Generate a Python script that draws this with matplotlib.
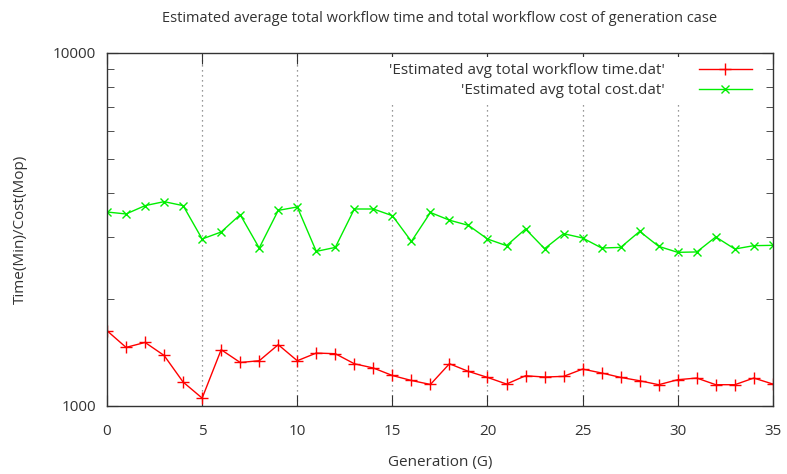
import matplotlib.pyplot as plt
import numpy as np

# data
generation = list(range(36))
avg_time = [1631, 1463, 1511, 1388, 1167, 1051, 1441, 1326, 1341, 1489,
            1341, 1410, 1404, 1315, 1279, 1218, 1179, 1149, 1315, 1251,
            1203, 1152, 1216, 1206, 1211, 1270, 1238, 1203, 1177, 1147,
            1185, 1198, 1147, 1147, 1198, 1152]
avg_cost = [3537, 3492, 3687, 3784, 3687, 2966, 3105, 3476, 2797, 3575,
            3655, 2736, 2808, 3607, 3607, 3453, 2920, 3526, 3353, 3242,
            2966, 2840, 3166, 2785, 3071, 2986, 2797, 2808, 3117, 2827,
            2719, 2726, 3006, 2779, 2840, 2846]

plt.rcParams['font.family'] = ['Open Sans', 'DejaVu Sans']
txt = '#333333'

fig = plt.figure(figsize=(7.87, 4.74), dpi=100)
ax = fig.add_axes([0.136, 0.144, 0.846, 0.745])

ax.plot(generation, avg_time, color='#ff0000', marker='+', ms=8, mew=1.0, lw=1.0,
        label="'Estimated avg total workflow time.dat'")
ax.plot(generation, avg_cost, color='#00ee00', marker='x', ms=6, mew=1.0, lw=1.0,
        label="'Estimated avg total cost.dat'")

ax.set_yscale('log')
ax.set_xlim(0, 35)
ax.set_ylim(1000, 10000)
ax.set_xticks(np.arange(0, 36, 5))
ax.set_yticks([1000, 10000])
ax.set_yticklabels(['1000', '10000'])
ax.set_yticks([k * 1000 for k in range(2, 10)], minor=True)
ax.yaxis.set_minor_formatter(plt.NullFormatter())
ax.tick_params(which='both', direction='in', top=True, right=True, colors='#333333',
               labelcolor=txt, labelsize=11)
ax.tick_params(axis='x', pad=13)
ax.tick_params(axis='y', pad=8)
ax.tick_params(which='major', length=8)
ax.tick_params(which='minor', length=5)
ax.tick_params(axis='x', which='minor', bottom=False, top=False)

for g in range(5, 35, 5):
    ax.axvline(g, color='#777777', ls=(0, (1, 3)), lw=0.9, zorder=0)

for s in ax.spines.values():
    s.set_color('#333333')
    s.set_linewidth(1.0)

ax.set_title('Estimated average total workflow time and total workflow cost of generation case',
             fontsize=10.5, color=txt, pad=22)
ax.set_xlabel('Generation (G)', fontsize=11, color=txt, labelpad=12)
ax.set_ylabel('Time(Min)/Cost(Mop)', fontsize=11, color=txt, labelpad=18)

leg = ax.legend(loc='upper right', markerfirst=False, frameon=True, fontsize=11,
                handlelength=3.5, handletextpad=2.2, borderaxespad=0.3, labelspacing=0.3,
                bbox_to_anchor=(0.985, 1.0))
leg.get_frame().set_edgecolor('none')
leg.get_frame().set_facecolor('white')
leg.get_frame().set_alpha(1)
for t in leg.get_texts():
    t.set_color(txt)
    t.set_ha('right')

plt.savefig('out.png', dpi=100)
